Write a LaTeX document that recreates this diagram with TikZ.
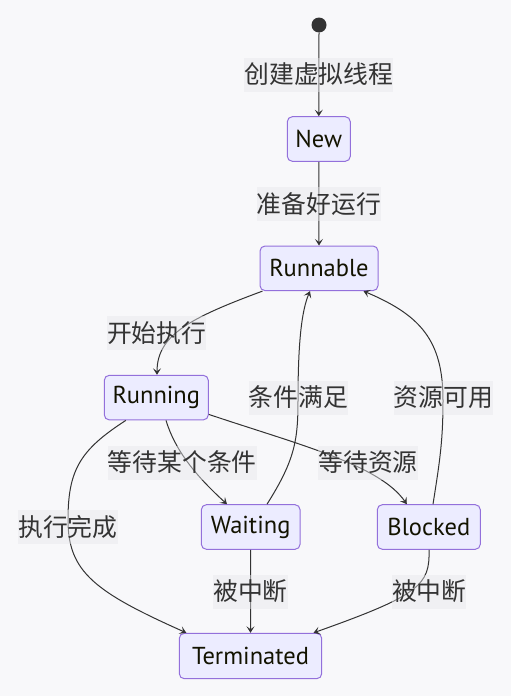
\documentclass[tikz,border=0pt]{standalone}
\usepackage{fontspec}
\setmainfont{PT Sans}
\newfontfamily\cjk{Noto Sans CJK SC}
\usetikzlibrary{arrows.meta}
\definecolor{pagebg}{HTML}{F8F8FA}
\definecolor{nodefill}{HTML}{ECECFF}
\definecolor{nodeline}{HTML}{9370DB}
\definecolor{nodetext}{HTML}{131300}
\definecolor{edgecol}{HTML}{333333}
\definecolor{lblbg}{HTML}{E8E8EC}
\tikzset{
  state/.style={draw=nodeline, fill=nodefill, line width=1pt, rounded corners=5pt,
    minimum height=44.6pt, inner sep=0pt, text=nodetext,
    font=\fontsize{24.5}{28}\selectfont},
  trans/.style={draw=edgecol, line width=1pt,
    -{Stealth[length=6.5pt,width=8pt,inset=3pt]}},
  lbl/.style={fill=lblbg, fill opacity=0.45, text opacity=1, text=edgecol,
    inner xsep=0pt, inner ysep=0pt, minimum height=34pt,
    font=\cjk\fontsize{24.8}{28}\selectfont},
}
\begin{document}
\begin{tikzpicture}[x=1pt,y=-1pt]
\fill[pagebg] (0,0) rectangle (511,696);
\useasboundingbox (0,0) rectangle (511,696);

% states
\node[circle, fill=edgecol, minimum size=15pt, inner sep=0pt] (start) at (319,25) {};
\node[state, minimum width=63pt] (new) at (318.8,139) {New};
\node[state, minimum width=118pt] (runnable) at (319,268.3) {Runnable};
\node[state, minimum width=104pt] (running) at (156.3,397.6) {Running};
\node[state, minimum width=98.7pt] (waiting) at (250.7,527) {Waiting};
\node[state, minimum width=103pt] (blocked) at (428.8,527) {Blocked};
\node[state, minimum width=142.4pt, minimum height=45.4pt] (term) at (250.5,656) {Terminated};

% transitions
\draw[trans] (start.south) -- (new.north);
\draw[trans] (new.south) -- (runnable.north);
\draw[trans] ([xshift=3pt]runnable.south west) .. controls (190,318) and (157,335) .. ([xshift=0.7pt]running.north);
\draw[trans] ([xshift=9.7pt]running.south) .. controls (175,450) and (195,475) .. ([xshift=-23.7pt]waiting.north);
\draw[trans] ([yshift=6pt]running.south east) .. controls (300,445) and (380,465) .. ([xshift=-22pt]blocked.north);
\draw[trans] ([xshift=22pt]running.south west) .. controls (80,450) and (68,470) .. (68,520)
  .. controls (68,572) and (95,592) .. ([xshift=7.5pt]term.north west);
\draw[trans] ([xshift=16.3pt]waiting.north) .. controls (295,460) and (298,440) .. (298,400)
  .. controls (298,340) and (302,310) .. ([xshift=-9pt]runnable.south);
\draw[trans] ([xshift=4.2pt]blocked.north) .. controls (440,460) and (443,440) .. (443,400)
  .. controls (443,340) and (420,315) .. ([xshift=-15pt]runnable.south east);
\draw[trans] (waiting.south) -- (term.north);
\draw[trans] ([xshift=0.2pt]blocked.south) .. controls (430,585) and (420,595) .. ([xshift=-8.7pt]term.north east);

% labels
\node[lbl] (l1) at (318.8,74.5) {创建虚拟线程};
\node[lbl] (l2) at (318.8,203.8) {准备好运行};
\node[lbl] (l3) at (156.7,333) {开始执行};
\node[lbl] (l4) at (298.3,397.5) {条件满足};
\node[lbl] (l5) at (443.3,397.5) {资源可用};
\node[lbl] (l6) at (182.3,462.5) {等待某个条件};
\node[lbl] (l7) at (368,462.5) {等待资源};
\node[lbl] (l8) at (68,526.8) {执行完成};
\node[lbl] (l9) at (250.5,591.5) {被中断};
\node[lbl] (l10) at (429.2,591.5) {被中断};
\end{tikzpicture}
\end{document}
